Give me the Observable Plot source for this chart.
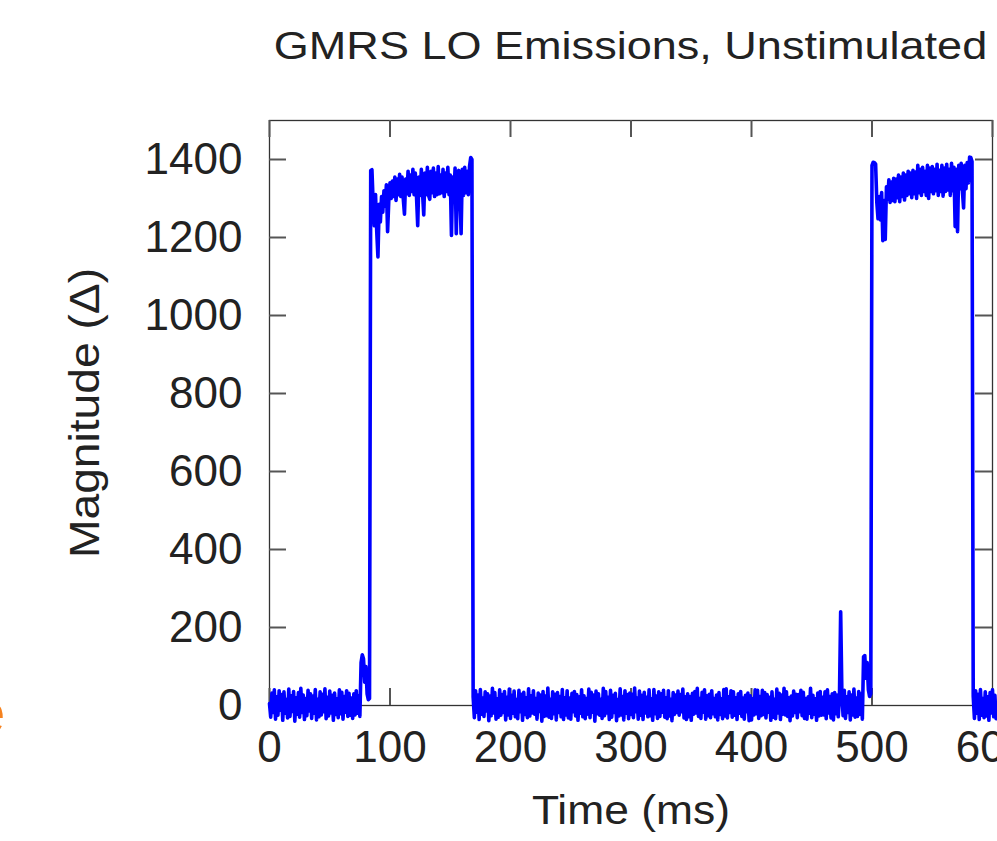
<!DOCTYPE html>
<html><head><meta charset="utf-8">
<script src="https://cdn.jsdelivr.net/npm/d3@7"></script>
<script src="https://cdn.jsdelivr.net/npm/@observablehq/plot@0.6"></script>
<style>
body{margin:0;background:#fff;}
#wrap{position:relative;width:997px;height:841px;overflow:hidden;font-family:"Liberation Sans",Arial,Helvetica,sans-serif;background:#fff;}
#title{position:absolute;left:269px;width:723px;top:26px;text-align:center;font-size:39px;line-height:39px;color:#222;transform:scaleX(1.155);transform-origin:center;white-space:nowrap;}
#mark{position:absolute;left:-28px;top:683px;font-size:60px;line-height:60px;color:#f5821f;}
#chart svg{position:absolute;left:0;top:0;}
</style></head>
<body><div id="wrap"><div id="chart"></div><div id="title"></div><div id="mark">e</div></div>
<script>
const titleText = "GMRS LO Emissions, Unstimulated";
const xLabel = "Time (ms)";
const yLabel = "Magnitude (Δ)";
const xTicks = [0, 100, 200, 300, 400, 500, 600];
const yTicks = [0, 200, 400, 600, 800, 1000, 1200, 1400];
const xDomain = [0, 600];
const yDomain = [0, 1500];
const sampleStepMs = 1;

// t = 0..75
const quietA = [
  5,-30,32,-18,40,-35,22,-25,38,-12,
  28,-38,35,-20,15,-32,42,-28,25,-15,
  36,-40,20,-22,33,-30,44,-18,27,-36,
  18,-26,39,-14,30,-33,24,-20,41,-37,
  16,-29,35,-24,29,-16,43,-34,21,-27,
  37,-19,26,-38,32,-23,17,-31,40,-21,
  34,-35,23,-17,38,-28,31,-25,19,-33,
  30,-24,38,-20,25,-28
];
// t = 76..83
const bumpA = [110,130,120,60,100,30,15,18];
// t = 84..168
const highA = [
  1372,1374,1290,1230,1310,1215,1150,1285,1240,1305,
  1265,1320,1280,1335,1215,1295,1340,1300,1345,1305,
  1355,1295,1350,1310,1362,1305,1355,1300,1260,1350,
  1312,1370,1308,1360,1318,1375,1310,1365,1305,1230,
  1355,1308,1375,1315,1258,1365,1310,1380,1308,1298,
  1370,1315,1378,1305,1365,1310,1382,1312,1360,1315,
  1375,1305,1365,1318,1380,1310,1360,1205,1355,1308,
  1378,1210,1350,1372,1315,1210,1375,1308,1380,1315,
  1370,1310,1382,1405,1400
];
// t = 169..473
const quietB = [
  22,-31,38,-17,27,-36,41,-22,19,-28,
  35,-14,30,-39,24,-26,44,-19,33,-35,
  17,-30,40,-25,28,-18,36,-37,21,-24,
  42,-33,26,-20,37,-29,15,-34,39,-16,
  29,-38,34,-23,20,-31,43,-27,25,-19,
  38,-22,18,-35,32,-15,27,-40,36,-28,
  24,-26,45,-30,16,-33,35,-21,29,-37,
  33,-18,23,-29,41,-36,20,-24,38,-32,
  19,-35,31,-16,36,-27,28,-38,22,-20,
  40,-29,25,-34,18,-22,42,-31,34,-17,
  27,-40,37,-21,30,-25,16,-33,44,-26,
  36,-19,21,-36,39,-30,26,-18,31,-39,
  15,-27,43,-24,23,-37,38,-20,28,-34,
  32,-23,29,-31,45,-16,19,-35,37,-25,
  26,-36,34,-19,21,-29,40,-26,17,-38,
  41,-21,24,-33,35,-28,30,-17,39,-30,
  20,-34,38,-27,16,-39,33,-23,27,-18,
  37,-25,28,-16,42,-32,22,-36,30,-29,
  23,-38,31,-22,36,-19,44,-28,18,-33,
  34,-17,40,-35,25,-26,29,-31,38,-21,
  18,-29,27,-37,33,-23,17,-34,41,-27,
  43,-32,22,-18,38,-30,35,-25,20,-36,
  30,-20,36,-28,19,-35,26,-16,32,-39,
  25,-37,17,-24,40,-21,39,-33,23,-26,
  39,-23,33,-32,28,-17,21,-38,35,-30,
  16,-34,42,-19,31,-36,27,-22,44,-24,
  35,-28,20,-39,24,-27,37,-18,29,-31,
  28,-16,39,-26,34,-33,18,-35,22,-20,
  44,-31,26,-22,17,-38,32,-27,36,-25,
  21,-24,35,-34,40,-19,23,-32,30,-37,
  33,-21,27,-29,24
];
// t = 474
const spikeB = [240];
// t = 475..492
const quietC = [31,-26,39,-33,22,-18,35,-37,27,-24,42,-30,19,-28,36,-22,30,-35];
// t = 493..499
const bumpB = [125,128,70,110,40,23,30];
// t = 500..583
const highB = [
  1385,1393,1392,1388,1290,1248,1305,1245,1315,1192,
  1295,1195,1330,1298,1348,1290,1342,1295,1352,1292,
  1350,1302,1360,1292,1355,1305,1365,1296,1360,1308,
  1370,1312,1365,1302,1372,1312,1368,1300,1385,1315,
  1375,1308,1380,1318,1370,1308,1385,1300,1378,1318,
  1382,1312,1375,1320,1388,1308,1372,1318,1385,1306,
  1378,1318,1388,1322,1375,1308,1390,1320,1380,1228,
  1375,1215,1385,1325,1390,1320,1276,1385,1325,1392,
  1340,1406,1405,1395
];
// t = 584..603
const quietD = [24,-33,38,-20,29,-36,41,-25,18,-31,35,-27,22,-38,33,-19,40,-29,26,-34];

const magnitude = [quietA, bumpA, highA, quietB, spikeB, quietC, bumpB, highB, quietD].flat();
const samples = magnitude.map((v, i) => ({t: i * sampleStepMs, v}));

document.getElementById("title").textContent = titleText;

const W = 997, H = 841, mL = 269, mR = 5, mT = 120, mB = 136;
const fw = W - mL - mR, fh = H - mT - mB, tickLen = 17;
const tickStyle = {stroke: "#555", strokeWidth: 2};

const plot = Plot.plot({
  width: W, height: H,
  marginLeft: mL, marginRight: mR, marginTop: mT, marginBottom: mB,
  style: {fontFamily: '"Liberation Sans", Arial, Helvetica, sans-serif', fontSize: "44px", color: "#222", background: "transparent", overflow: "visible"},
  x: {domain: xDomain},
  y: {domain: yDomain},
  marks: [
    Plot.frame({stroke: "#333", strokeWidth: 1.3}),
    Plot.ruleX(xTicks, {x: d => d, insetTop: fh - tickLen, ...tickStyle}),
    Plot.ruleX(xTicks, {x: d => d, insetBottom: fh - tickLen, ...tickStyle}),
    Plot.ruleY(yTicks, {y: d => d, insetRight: fw - tickLen, ...tickStyle}),
    Plot.ruleY(yTicks, {y: d => d, insetLeft: fw - tickLen, ...tickStyle}),
    Plot.axisX({ticks: xTicks, tickSize: 0, tickPadding: 25, label: null, tickFormat: d => String(d)}),
    Plot.axisY({ticks: yTicks, tickSize: 0, tickPadding: 27, label: null, tickFormat: d => String(d)}),
    Plot.text([xLabel], {text: d => d, frameAnchor: "bottom", textAnchor: "middle", lineAnchor: "bottom", dy: 118, fontSize: 40, fill: "#222"}),
    Plot.text([yLabel], {text: d => d, frameAnchor: "left", textAnchor: "middle", lineAnchor: "bottom", rotate: -90, dx: -171, dy: 0, fontSize: 42, fill: "#222"}),
    Plot.line(samples, {x: "t", y: "v", stroke: "#0000ff", strokeWidth: 3.6})
  ]
});
document.getElementById("chart").append(plot);

function stretch(str, sx, sy) {
  const svgRect = plot.getBoundingClientRect();
  plot.querySelectorAll("text").forEach(t => {
    if (t.textContent !== str) return;
    const r = t.getBoundingClientRect();
    const cx = r.left + r.width / 2 - svgRect.left, cy = r.top + r.height / 2 - svgRect.top;
    const g = document.createElementNS("http://www.w3.org/2000/svg", "g");
    g.setAttribute("transform", `translate(${cx},${cy}) scale(${sx},${sy}) translate(${-cx},${-cy})`);
    t.parentNode.insertBefore(g, t);
    g.appendChild(t);
  });
}
stretch(xLabel, 1.11, 1);
stretch(yLabel, 1, 1.1);
</script>
</body></html>
